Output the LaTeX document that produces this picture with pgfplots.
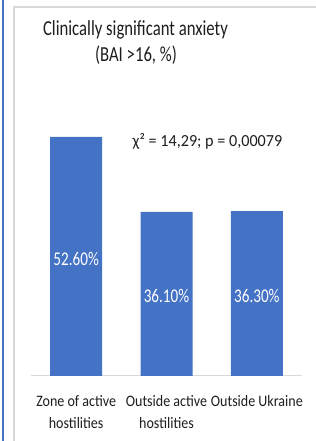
\documentclass[border=0pt]{standalone}
\usepackage{pgfplots}
\pgfplotsset{compat=1.18}
\usepackage{pgfplotstable}
\usepackage{fontspec}
\setmainfont{Carlito}
\newfontfamily\fTitle[FakeStretch=0.78]{Carlito}
\newfontfamily\fChi[FakeStretch=0.955]{Carlito}
\newfontfamily\fVal[FakeStretch=0.78]{Carlito}
\newfontfamily\fTick[FakeStretch=0.88]{Carlito}
\definecolor{barblue}{HTML}{4472C4}
\definecolor{framegray}{HTML}{D9D9D9}
\definecolor{textcol}{HTML}{1E1E1E}

\pgfplotstableread{
x y
0 52.6
1 36.1
2 36.3
}\datatable

\begin{document}
\begin{tikzpicture}[x=1bp,y=1bp]
\path[use as bounding box] (0,0) rectangle (315,441);
\draw[barblue, line width=1.5bp] (3,0) -- (3,441);
\draw[framegray, line width=2bp] (13.5,0) -- (13.5,433.5) -- (316,433.5);
\begin{axis}[
  at={(31bp,65bp)}, anchor=south west,
  scale only axis, width=271bp, height=272.7bp,
  xmin=-0.5, xmax=2.5, ymin=0, ymax=60,
  axis y line=none, axis x line*=bottom,
  x axis line style={framegray, line width=1bp, -},
  ytick=\empty,
  xtick={0,1,2},
  xticklabels={{Zone of active\\hostilities},{Outside active\\hostilities},{Outside Ukraine\\\mbox{}}},
  xticklabel style={align=center, anchor=base, yshift=-52.3bp, text=textcol,
     font=\fTick\fontsize{16}{21.6}\selectfont},
  major tick length=0pt, tick style={draw=none},
  ybar, bar width=52bp,
  clip=false,
  /pgf/number format/assume math mode=true,
]
\addplot[fill=barblue, draw=none,
  point meta=y,
  visualization depends on={y \as \rawy},
  nodes near coords={\pgfmathprintnumber[fixed,fixed zerofill,precision=2]{\pgfplotspointmeta}\%},
  every node near coord/.append style={anchor=center, text=white,
     font=\fVal\fontsize{19.5}{22}\selectfont,
     shift={(axis direction cs:0,-\rawy/2)}, yshift=-2bp},
] table[x=x, y=y] {\datatable};
\end{axis}
\node[anchor=base, text=textcol, font=\fTitle\fontsize{21.5}{24}\selectfont] at (135.5,405.3) {Clinically significant anxiety};
\node[anchor=base, text=textcol, font=\fTitle\fontsize{21.5}{24}\selectfont] at (136,379.3) {(BAI >16, \%)};
\node[anchor=base, text=textcol, font=\fChi\fontsize{17}{20}\selectfont] at (207.5,294.3) {χ² = 14,29; p = 0,00079};
\end{tikzpicture}
\end{document}
